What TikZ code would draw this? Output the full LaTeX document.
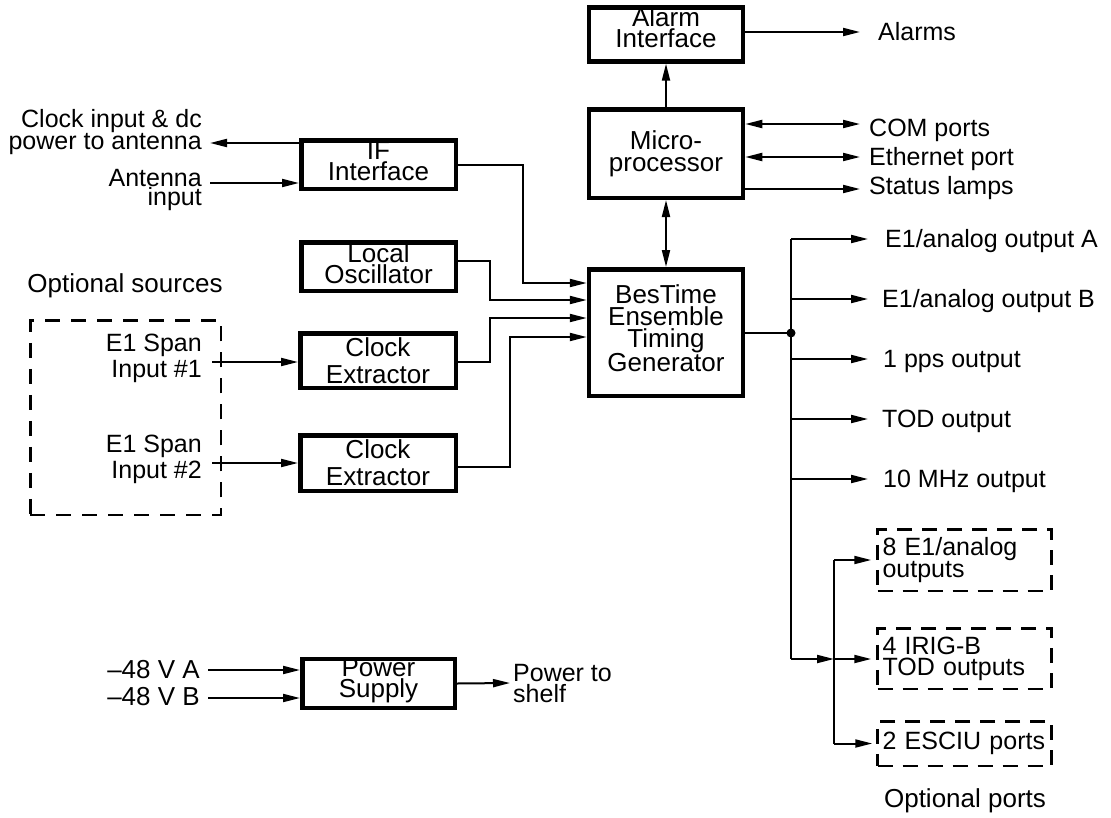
\documentclass[tikz,border=0pt]{standalone}
\usepackage{fontspec}
\setmainfont{Liberation Sans}
\usetikzlibrary{arrows.meta}
\begin{document}
\begin{tikzpicture}[x=1pt,y=-1pt,
  every node/.style={inner sep=0pt, font=\fontsize{26}{21}\selectfont},
  blk/.style={draw, line width=4.5pt, align=center, minimum width=154pt},
  optbox/.style={draw, line width=2.5pt, dash pattern=on 15pt off 10pt,
     text width=164pt, inner xsep=5pt, align=left},
  wire/.style={line width=2pt},
  arr/.style={line width=2pt, -{Triangle[length=17pt,width=8pt]}},
  dbl/.style={line width=2pt, {Triangle[length=17pt,width=8pt]}-{Triangle[length=17pt,width=8pt]}},
  lbl/.style={align=right},
  outlbl/.style={anchor=base west, font=\fontsize{25}{21}\selectfont},
]
\useasboundingbox (0,0) rectangle (1111,817);

% ---------- blocks ----------
\node[blk, minimum height=50.5pt, text depth=14pt] (alarm) at (666,34.5) {Alarm\\Interface};
\node[blk, minimum height=88.5pt, font=\fontsize{26}{22}\selectfont] (micro) at (666,153.5) {Micro-\\processor};
\node[blk, minimum height=126.5pt, text depth=8pt, font=\fontsize{26}{21.7}\selectfont] (bes) at (666,332.5) {BesTime\\Ensemble\\Timing\\Generator};
\node[blk, minimum width=154.5pt, minimum height=48.5pt, text depth=7pt] (ifb) at (378.5,164.5) {IF\\Interface};
\node[blk, minimum width=154.5pt, minimum height=48.5pt, text depth=5pt] (lo) at (378.5,266.5) {Local\\Oscillator};
\node[blk, minimum width=155.5pt, minimum height=54.5pt, font=\fontsize{26}{27}\selectfont] (ce1) at (378,360.5) {Clock\\Extractor};
\node[blk, minimum width=155.5pt, minimum height=55.5pt, font=\fontsize{26}{27}\selectfont] (ce2) at (378,463) {Clock\\Extractor};
\node[blk, minimum width=152.5pt, minimum height=46.5pt, text depth=10pt] (ps) at (378.5,683.5) {Power\\Supply};

% ---------- optional boxes ----------
\node[draw, line width=2.5pt, dash pattern=on 15pt off 11pt, minimum width=190.5pt, minimum height=194.5pt] (srcbox) at (125.5,417.5) {};
\node[anchor=base] (srcT) at (125,292) {Optional sources};

\node[optbox, minimum height=61.5pt, font=\fontsize{25}{21}\selectfont] (e8) at (964.5,560) {8 E1/analog\\outputs};
\node[optbox, minimum height=60.5pt, font=\fontsize{25}{21}\selectfont] (irig) at (964.5,658.5) {4 IRIG-B\\TOD outputs};
\node[optbox, minimum height=44.5pt, font=\fontsize{25}{21}\selectfont] (esciu) at (964.5,743.5) {2 ESCIU ports};
\node[anchor=base] (optT) at (965,807) {Optional ports};

% ---------- left labels ----------
\node[lbl, anchor=north east, font=\fontsize{25}{19.5}\selectfont] (clkT) at (202,109) {Clock input \& dc\\power to antenna};
\node[lbl, anchor=north east, font=\fontsize{25}{19.5}\selectfont] (antT) at (202,169) {Antenna\\input};
\node[lbl, anchor=north east, font=\fontsize{25}{26}\selectfont] (span1T) at (202,334) {E1 Span\\Input \#1};
\node[lbl, anchor=north east, font=\fontsize{25}{26}\selectfont] (span2T) at (202,435) {E1 Span\\Input \#2};
\node[anchor=base east] (vaT) at (200,678) {–48 V A};
\node[anchor=base east] (vbT) at (200,705) {–48 V B};
\node[anchor=north west, align=left, font=\fontsize{25}{21}\selectfont] (shelfT) at (513,664) {Power to\\shelf};

% ---------- right labels ----------
\node[outlbl] (alarmsT) at (878,40) {Alarms};
\node[outlbl] (comT) at (869,136) {COM ports};
\node[outlbl] (ethT) at (869,165) {Ethernet port};
\node[outlbl] (statT) at (869,194) {Status lamps};
\node[outlbl] (oAT) at (885,247) {E1/analog output A};
\node[outlbl] (oBT) at (882,307) {E1/analog output B};
\node[outlbl] (ppsT) at (883,367) {1 pps output};
\node[outlbl] (todT) at (882,427) {TOD output};
\node[outlbl] (mhzT) at (883,487) {10 MHz output};

% ---------- coordinates ----------
\coordinate (clkEnd) at (210,143);
\coordinate (antStart) at (210,183);
\coordinate (s1Start) at (212,362);
\coordinate (s2Start) at (212,463);
\coordinate (vaStart) at (208,670);
\coordinate (vbStart) at (208,698);
\coordinate (shelfEnd) at (510,683);
\coordinate (alarmsEnd) at (860,32);
\coordinate (comEnd) at (860,124);
\coordinate (ethEnd) at (860,157);
\coordinate (statEnd) at (860,189);
\coordinate (dot) at (791,333);
\coordinate (busTop) at (791,239);
\coordinate (busBot) at (791,659);
\coordinate (oA) at (868,239);
\coordinate (oB) at (868,299);
\coordinate (opps) at (868,359);
\coordinate (otod) at (868,419);
\coordinate (omhz) at (868,479);
\coordinate (sub) at (834,659);
\coordinate (subTop) at (834,560);
\coordinate (subBot) at (834,743.5);

% ---------- connectors ----------
\draw[arr] (micro.north) -- (alarm.south);
\draw[dbl] (bes.north) -- (micro.south);
\draw[arr] (alarm.east |- alarmsEnd) -- (alarmsEnd);
\draw[dbl] (micro.east |- comEnd) -- (comEnd);
\draw[dbl] (micro.east |- ethEnd) -- (ethEnd);
\draw[arr] (micro.east |- statEnd) -- (statEnd);

\draw[arr] (ifb.west |- clkEnd) -- (clkEnd);
\draw[arr] (antStart) -- (ifb.west |- antStart);
\draw[arr] (s1Start) -- (ce1.west |- s1Start);
\draw[arr] (s2Start) -- (ce2.west |- s2Start);
\draw[arr] (vaStart) -- (ps.west |- vaStart);
\draw[arr] (vbStart) -- (ps.west |- vbStart);
\draw[arr] (ps.east) -- (shelfEnd);

\draw[arr] (ifb.east) -| (523,283) -- (bes.west |- 0,283);
\draw[arr] (lo.east |- 0,261) -| (490,300) -- (bes.west |- 0,300);
\draw[arr] (ce1.east |- 0,362) -| (490,318) -- (bes.west |- 0,318);
\draw[arr] (ce2.east |- 0,467) -| (510,337) -- (bes.west |- 0,337);

\draw[wire] (bes.east |- dot) -- (dot);
\fill (dot) circle (4.5pt);
\draw[wire] (busTop) -- (busBot);
\draw[arr] (busTop) -- (oA);
\draw[arr] (dot |- oB) -- (oB);
\draw[arr] (dot |- opps) -- (opps);
\draw[arr] (dot |- otod) -- (otod);
\draw[arr] (dot |- omhz) -- (omhz);
\draw[arr] (busBot) -- (sub);
\draw[arr, shorten >=5pt] (sub) -- (irig.west |- sub);
\draw[arr, shorten >=5pt] (subTop) -- (e8.west |- subTop);
\draw[wire] (subTop) -- (subBot);
\draw[arr, shorten >=4pt] (subBot) -- (esciu.west |- subBot);
\end{tikzpicture}
\end{document}
